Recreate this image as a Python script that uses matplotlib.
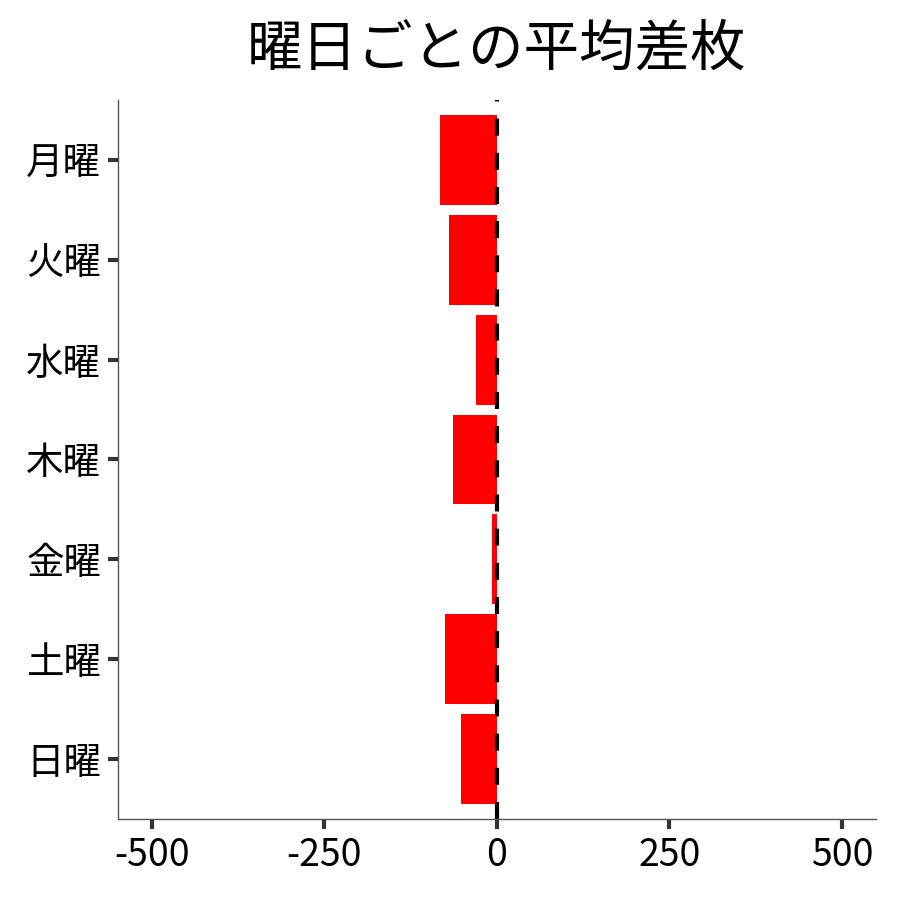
import matplotlib
matplotlib.use("Agg")
import matplotlib.pyplot as plt
import numpy as np

plt.rcParams['font.family'] = ['Noto Sans CJK JP', 'DejaVu Sans']

# data
days = ["月曜", "火曜", "水曜", "木曜", "金曜", "土曜", "日曜"]
avg_diff = [-82, -69, -30, -63, -7, -75, -52]
xticks = [-500, -250, 0, 250, 500]

fig = plt.figure(figsize=(9, 9), dpi=100)
ax = fig.add_axes([0.131, 0.09, 0.842, 0.799])

y = np.arange(len(days))
ax.barh(y, avg_diff, height=0.9, color="#ff0000")
ax.axvline(0, color="black", linestyle=(0, (4.1, 4.1)), linewidth=3)

ax.set_xlim(-549, 549)
ax.set_ylim(6.6, -0.6)
ax.set_yticks(y)
ax.set_yticklabels(days)
ax.set_xticks(xticks)
ax.set_xticklabels([str(v) for v in xticks])
ax.tick_params(axis="both", labelsize=27, width=3, length=7, color="#333333", pad=5)

for s in ["top", "right"]:
    ax.spines[s].set_visible(False)
for s in ["left", "bottom"]:
    ax.spines[s].set_color("#555555")
    ax.spines[s].set_linewidth(1)

ax.set_title("曜日ごとの平均差枚", fontsize=40, pad=25)

fig.savefig("out.png", dpi=100)
